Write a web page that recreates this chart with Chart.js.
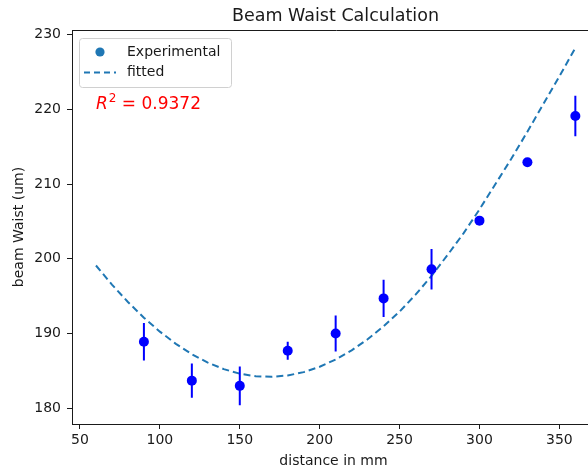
<!DOCTYPE html>
<html>
<head>
<meta charset="utf-8">
<script src="https://cdn.jsdelivr.net/npm/chart.js@4/dist/chart.umd.min.js"></script>
<style>
  html, body { margin: 0; padding: 0; overflow: hidden; background: #fff; width: 588px; height: 472px; }
  canvas { display: block; }
</style>
</head>
<body>
<canvas id="c" width="600" height="472"></canvas>
<script>
// ---- data ----
const xTicks = [50, 100, 150, 200, 250, 300, 350];
const yTicks = [180, 190, 200, 210, 220, 230];

const distance = [90, 120, 150, 180, 210, 240, 270, 300, 330, 360];
const waist    = [188.9, 183.7, 183.0, 187.7, 190.0, 194.7, 198.6, 205.1, 212.9, 219.1];
const waistErr = [2.5, 2.3, 2.6, 1.2, 2.4, 2.5, 2.7, 0.3, 0.5, 2.7];

const fitDistance = [60, 70, 80, 90, 100, 110, 120, 130, 140, 150, 160, 170, 180, 190, 200,
                     210, 220, 230, 240, 250, 260, 270, 280, 290, 300, 310, 320, 330, 340, 350, 360];
const fitWaist = [199.1, 196.55, 194.22, 192.12, 190.25, 188.62, 187.24, 186.11, 185.24, 184.63,
                  184.28, 184.21, 184.39, 184.84, 185.56, 186.53, 187.76, 189.24, 190.97, 192.93,
                  195.2, 197.7, 200.5, 203.4, 206.6, 210.0, 213.4, 217.0, 220.7, 224.4, 228.2];

const titleText = 'Beam Waist Calculation';
const xLabel = 'distance in mm';
const yLabel = 'beam Waist (um)';
const legendLabels = ['Experimental', 'fitted'];
const r2Value = '0.9372';

// ---- build datasets ----
const pts = distance.map((d, i) => ({ x: d, y: waist[i] }));
const errPts = [];
distance.forEach((d, i) => {
  errPts.push({ x: d, y: waist[i] - waistErr[i] });
  errPts.push({ x: d, y: waist[i] + waistErr[i] });
  errPts.push({ x: d, y: null });
});
const fitPts = fitDistance.map((d, i) => ({ x: d, y: fitWaist[i] }));

const FONT = '"DejaVu Sans", sans-serif';
const INK = '#1a1a1a';

const decor = {
  id: 'decor',
  afterDraw(chart) {
    const ctx = chart.ctx;
    const a = chart.chartArea;
    ctx.save();
    // top spine
    ctx.strokeStyle = INK;
    ctx.lineWidth = 1;
    ctx.beginPath();
    ctx.moveTo(a.left, a.top + 0.5);
    ctx.lineTo(a.right + 6, a.top + 0.5);
    ctx.stroke();

    // title (centred on the axes; full axes right edge lies beyond the window)
    ctx.fillStyle = INK;
    ctx.font = '17.5px ' + FONT;
    ctx.textAlign = 'center';
    ctx.textBaseline = 'middle';
    ctx.fillText(titleText, 335.5, 16.5);

    // legend
    const lx = a.left + 7, ly = a.top + 8, lw = 152, lh = 49, r = 3;
    ctx.globalAlpha = 0.85;
    ctx.fillStyle = '#fff';
    ctx.beginPath();
    ctx.roundRect(lx + 0.5, ly + 0.5, lw, lh, r);
    ctx.fill();
    ctx.globalAlpha = 1;
    ctx.strokeStyle = '#d0d0d0';
    ctx.lineWidth = 1;
    ctx.stroke();

    ctx.fillStyle = '#1f77b4';
    ctx.beginPath();
    ctx.arc(lx + 21, ly + 14, 4.6, 0, Math.PI * 2);
    ctx.fill();

    ctx.strokeStyle = '#1f77b4';
    ctx.lineWidth = 2;
    ctx.setLineDash([6, 4]);
    ctx.beginPath();
    ctx.moveTo(lx + 5, ly + 34.5);
    ctx.lineTo(lx + 37, ly + 34.5);
    ctx.stroke();
    ctx.setLineDash([]);

    ctx.fillStyle = INK;
    ctx.font = '14px ' + FONT;
    ctx.textAlign = 'left';
    ctx.textBaseline = 'middle';
    ctx.fillText(legendLabels[0], lx + 48, ly + 14);
    ctx.fillText(legendLabels[1], lx + 48, ly + 34.5);

    // R^2 annotation
    ctx.fillStyle = '#ff0000';
    ctx.textBaseline = 'alphabetic';
    let tx = 96;
    const by = 109;
    ctx.font = 'italic 17px ' + FONT;
    ctx.fillText('R', tx, by);
    tx += ctx.measureText('R').width + 1;
    ctx.font = '12px ' + FONT;
    ctx.fillText('2', tx, by - 7);
    tx += ctx.measureText('2').width;
    ctx.font = '17px ' + FONT;
    ctx.fillText(' = ' + r2Value, tx, by);
    ctx.restore();
  }
};

new Chart(document.getElementById('c'), {
  type: 'scatter',
  data: {
    datasets: [
      {
        label: legendLabels[0],
        data: pts,
        backgroundColor: '#0000ff',
        borderColor: '#0000ff',
        pointRadius: 5,
        pointBorderWidth: 0,
        showLine: false,
        order: 0
      },
      {
        label: 'errors',
        data: errPts,
        showLine: true,
        spanGaps: false,
        borderColor: '#0000ff',
        borderWidth: 2,
        pointRadius: 0,
        order: 1
      },
      {
        label: legendLabels[1],
        data: fitPts,
        showLine: true,
        borderColor: '#1f77b4',
        borderWidth: 2,
        borderDash: [7, 4],
        pointRadius: 0,
        tension: 0,
        order: 2
      }
    ]
  },
  options: {
    responsive: false,
    animation: false,
    devicePixelRatio: 1,
    layout: { padding: { top: 30, left: 0, right: 1, bottom: 0 } },
    plugins: {
      legend: { display: false },
      tooltip: { enabled: false },
      title: { display: false }
    },
    scales: {
      x: {
        type: 'linear',
        position: 'bottom',
        min: 45,
        max: 372.3,
        afterBuildTicks(s) { s.ticks = xTicks.map(v => ({ value: v })); },
        afterFit(s) { s.height = 48; },
        grid: { drawOnChartArea: false, drawTicks: true, tickLength: 5, color: INK, tickWidth: 1 },
        border: { color: INK, width: 1 },
        ticks: { color: INK, font: { family: FONT, size: 14 }, padding: 3, maxRotation: 0, autoSkip: false },
        title: { display: true, text: xLabel, color: INK, font: { family: FONT, size: 14 }, padding: { top: 0, bottom: 2 } }
      },
      y: {
        type: 'linear',
        position: 'left',
        min: 177.9,
        max: 230.6,
        afterBuildTicks(s) { s.ticks = yTicks.map(v => ({ value: v })); },
        afterFit(s) { s.width = 72; },
        grid: { drawOnChartArea: false, drawTicks: true, tickLength: 5, color: INK, tickWidth: 1 },
        border: { color: INK, width: 1 },
        ticks: { color: INK, font: { family: FONT, size: 14 }, padding: 6, autoSkip: false },
        title: { display: true, text: yLabel, color: INK, font: { family: FONT, size: 14 }, padding: { top: 10.5, bottom: 0 } }
      }
    }
  },
  plugins: [decor]
});
</script>
</body>
</html>
